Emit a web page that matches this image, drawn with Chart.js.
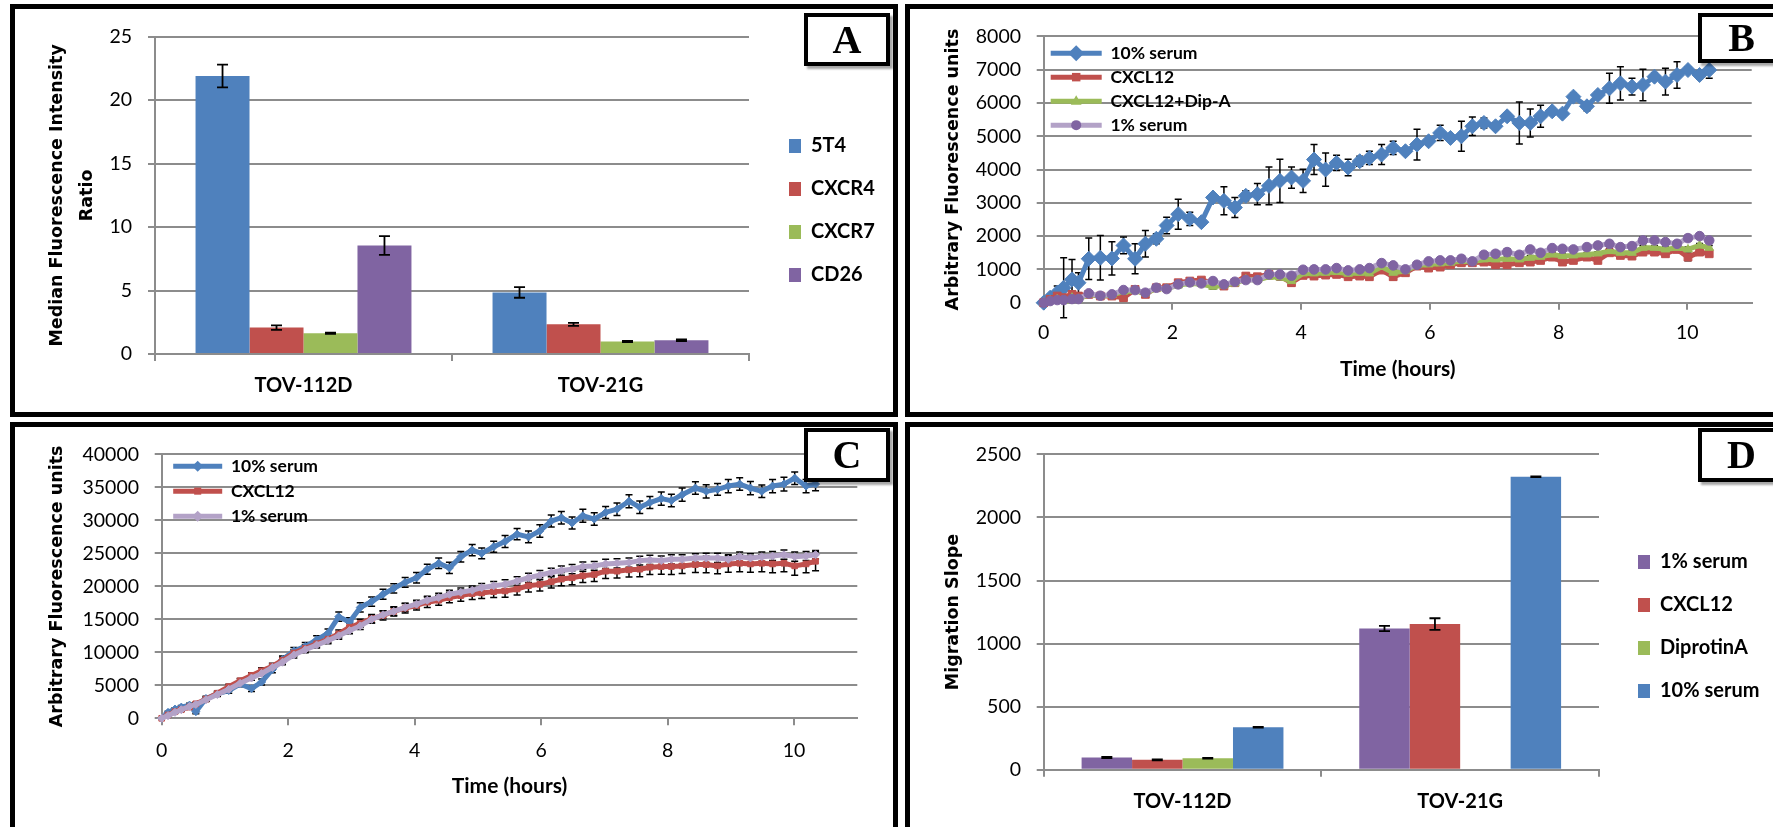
<!DOCTYPE html>
<html>
<head>
<meta charset="utf-8">
<script src="https://cdn.jsdelivr.net/npm/chart.js@4.4.1/dist/chart.umd.min.js"></script>
<style>
html,body{margin:0;padding:0;background:#fff;}
body{width:1773px;height:827px;overflow:hidden;position:relative;}
.panel{position:absolute;border:5px solid #000;box-sizing:border-box;}
.cw{position:absolute;}
.cw canvas{display:block;}
.letter{position:absolute;border:4px solid #000;box-sizing:border-box;background:#fff;
  box-shadow:3px 3px 2px rgba(0,0,0,0.35);font-family:'Liberation Serif','Times New Roman',serif;
  font-weight:bold;font-size:40px;display:flex;align-items:center;justify-content:center;line-height:1;}
</style>
</head>
<body>
<div class="panel" style="left:10px;top:4px;width:888px;height:413px"></div>
<div class="panel" style="left:905px;top:4px;width:900px;height:413px"></div>
<div class="panel" style="left:10px;top:422px;width:888px;height:430px"></div>
<div class="panel" style="left:905px;top:422px;width:900px;height:430px"></div>

<div class="cw" style="left:15px;top:9px;width:878px;height:403px"><canvas id="cA" width="878" height="403"></canvas></div>
<div class="cw" style="left:910px;top:9px;width:863px;height:403px"><canvas id="cB" width="863" height="403"></canvas></div>
<div class="cw" style="left:15px;top:427px;width:878px;height:400px"><canvas id="cC" width="878" height="400"></canvas></div>
<div class="cw" style="left:910px;top:427px;width:863px;height:400px"><canvas id="cD" width="863" height="400"></canvas></div>

<div class="letter" style="left:804px;top:13px;width:86px;height:53px">A</div>
<div class="letter" style="left:1698px;top:13px;width:87px;height:50px">B</div>
<div class="letter" style="left:804px;top:428px;width:86px;height:54px">C</div>
<div class="letter" style="left:1698px;top:428px;width:87px;height:54px">D</div>

<script>
// ---------------- DATA ----------------
// Panel A
const catsA = ['TOV-112D', 'TOV-21G'];
const a5T4 = [21.9, 4.85];
const a5T4Err = [0.9, 0.42];
const aCXCR4 = [2.08, 2.34];
const aCXCR4Err = [0.18, 0.12];
const aCXCR7 = [1.64, 0.99];
const aCXCR7Err = [0.05, 0.05];
const aCD26 = [8.55, 1.08];
const aCD26Err = [0.74, 0.07];

// Panel D
const catsD = ['TOV-112D', 'TOV-21G'];
const dSerum1 = [96, 1120];
const dSerum1Err = [5, 21];
const dCXCL12 = [78, 1155];
const dCXCL12Err = [4, 46];
const dDipA = [91, null];
const dDipAErr = [3, 0];
const dSerum10 = [336, 2323];
const dSerum10Err = [3, 3];

// Time points (hours) for panels B and C
const times = [0, 0.10, 0.21, 0.31, 0.44, 0.54, 0.70, 0.88, 1.06, 1.24, 1.42, 1.58, 1.75, 1.91, 2.09, 2.27,
  2.45, 2.63, 2.80, 2.97, 3.14, 3.32, 3.50, 3.67, 3.85, 4.03, 4.20, 4.38, 4.55, 4.73, 4.91, 5.06, 5.25, 5.43,
  5.62, 5.80, 5.98, 6.16, 6.32, 6.49, 6.66, 6.84, 7.02, 7.20, 7.39, 7.56, 7.72, 7.90, 8.06, 8.23, 8.44, 8.61,
  8.79, 8.96, 9.14, 9.31, 9.49, 9.66, 9.84, 10.01, 10.19, 10.34];

// Panel B
const bSerum10 = [0, 150, 300, 450, 700, 600, 1320, 1350, 1330, 1720, 1320, 1770, 1920, 2320, 2660, 2520,
  2420, 3160, 3060, 2860, 3210, 3260, 3510, 3660, 3760, 3660, 4300, 4000, 4200, 4060, 4250, 4350, 4450, 4650,
  4550, 4750, 4850, 5100, 4950, 5000, 5300, 5400, 5300, 5600, 5400, 5400, 5600, 5750, 5680, 6190, 5900, 6240,
  6440, 6590, 6490, 6540, 6790, 6640, 6840, 6990, 6840, 6990];
const bSerum10Err = [0, 100, 200, 900, 600, 300, 620, 670, 500, 250, 450, 400, 150, 250, 450, 200,
  100, 100, 420, 300, 150, 320, 570, 650, 320, 350, 450, 500, 230, 250, 150, 200, 300, 200,
  100, 460, 100, 230, 100, 450, 280, 150, 100, 100, 630, 420, 330, 100, 100, 100, 130, 100,
  450, 500, 250, 470, 100, 400, 400, 100, 120, 250];
const bCXCL12 = [0, 100, 200, 150, 250, 200, 250, 200, 200, 150, 400, 250, 450, 450, 600, 650,
  680, 600, 500, 600, 800, 780, 850, 800, 600, 820, 800, 830, 850, 780, 800, 780, 980, 780,
  900, 1100, 1040, 1070, 1140, 1200, 1200, 1220, 1140, 1140, 1200, 1220, 1270, 1370, 1220, 1270, 1370, 1270,
  1500, 1420, 1400, 1520, 1520, 1470, 1600, 1370, 1520, 1470];
const bCXCL12Err = [0, 40, 50, 60, 60, 60, 80, 70, 60, 90, 70, 60, 60, 70, 70, 80,
  70, 80, 70, 70, 80, 70, 60, 70, 100, 60, 70, 60, 70, 60, 70, 80, 60, 90,
  80, 70, 60, 60, 70, 80, 70, 60, 80, 60, 70, 80, 70, 60, 70, 60, 80, 70,
  60, 80, 70, 60, 70, 80, 70, 110, 80, 70];
const bDipA = [0, 60, 100, 50, 150, 100, 250, 200, 230, 330, 350, 280, 430, 420, 520, 580,
  560, 480, 520, 580, 700, 680, 780, 760, 650, 880, 880, 900, 920, 870, 900, 880, 1080, 900,
  950, 1120, 1150, 1180, 1200, 1250, 1230, 1300, 1300, 1320, 1300, 1350, 1380, 1450, 1400, 1420, 1450, 1480,
  1550, 1500, 1500, 1650, 1650, 1600, 1650, 1600, 1720, 1650];
const bDipAErr = [0, 30, 40, 40, 50, 50, 60, 50, 50, 60, 60, 50, 60, 50, 60, 60,
  60, 70, 60, 50, 60, 60, 60, 70, 60, 50, 60, 70, 60, 50, 60, 70, 60, 70,
  60, 50, 60, 70, 60, 60, 60, 70, 60, 50, 60, 70, 60, 60, 60, 70, 60, 50,
  60, 70, 60, 60, 60, 70, 60, 70, 60, 70];
const bSerum1 = [0, 50, 80, 80, 110, 110, 280, 210, 250, 380, 380, 300, 450, 410, 550, 610,
  580, 650, 550, 630, 680, 680, 850, 850, 810, 990, 1000, 1000, 1040, 970, 1000, 1040, 1190, 1120,
  1000, 1140, 1240, 1270, 1270, 1320, 1240, 1440, 1470, 1520, 1440, 1600, 1500, 1640, 1620, 1600, 1670, 1720,
  1770, 1670, 1700, 1870, 1870, 1820, 1770, 1940, 2000, 1870];
const bSerum1Err = [0, 30, 40, 50, 50, 50, 70, 60, 60, 70, 70, 60, 70, 60, 70, 70,
  60, 80, 60, 70, 70, 80, 70, 80, 70, 80, 90, 70, 80, 70, 80, 70, 90, 80,
  70, 80, 70, 80, 70, 90, 80, 70, 80, 90, 80, 70, 80, 70, 80, 70, 80, 90,
  80, 70, 80, 100, 80, 70, 80, 90, 80, 70];

// Panel C
const cSerum10 = [0, 900, 1400, 1700, 2000, 1000, 3000, 3700, 4200, 5200, 4500, 5500, 7400, 8900, 10200, 10900,
  11900, 12900, 15400, 14600, 16800, 17700, 18800, 19700, 20600, 21300, 22600, 23500, 22800, 24500, 25500, 25000,
  26000, 26800, 27900, 27500, 28400, 29900, 30400, 29600, 30700, 30200, 31200, 31700, 32900, 32000, 32700, 33300,
  33000, 33900, 34900, 34400, 34700, 35200, 35500, 34900, 34400, 35200, 35500, 36400, 35200, 35500];
const cSerum10Err = [0, 150, 200, 250, 300, 300, 350, 350, 400, 400, 450, 450, 500, 550, 550, 600,
  600, 650, 700, 650, 700, 700, 750, 700, 750, 800, 750, 800, 850, 800, 850, 800,
  850, 900, 850, 900, 950, 900, 950, 900, 1000, 950, 900, 950, 1000, 950, 900, 1000,
  950, 1000, 950, 1000, 900, 1000, 950, 1000, 950, 1000, 1050, 950, 1000, 1000];
const cCXCL12 = [0, 500, 1000, 1300, 1700, 2200, 2900, 3800, 4800, 5700, 6500, 7200, 7900, 8800, 9900, 10600,
  11300, 12000, 12800, 13800, 14400, 15100, 15600, 16200, 16700, 17100, 17600, 17900, 18300, 18600, 18900, 19000,
  19200, 19300, 19600, 20100, 20300, 20700, 21100, 21300, 21600, 21800, 22300, 22300, 22500, 22600, 22900, 23000,
  23000, 23100, 23300, 23300, 23100, 23400, 23500, 23400, 23500, 23400, 23500, 23100, 23400, 23800];
const cCXCL12Err = [0, 100, 150, 200, 250, 250, 300, 300, 350, 350, 400, 450, 450, 450, 500, 550,
  500, 550, 600, 650, 600, 650, 700, 700, 750, 700, 800, 750, 800, 850, 900, 850,
  900, 950, 900, 950, 1000, 950, 1000, 1050, 1000, 1050, 1100, 1050, 1100, 1150, 1100, 1150,
  1200, 1150, 1200, 1250, 1200, 1250, 1300, 1250, 1300, 1350, 1300, 1400, 1350, 1450];
const cSerum1 = [0, 400, 900, 1300, 1800, 2100, 2800, 3600, 4400, 5300, 6100, 6800, 7700, 8500, 9600, 10400,
  11100, 11800, 12500, 13300, 14000, 15000, 15700, 16200, 16800, 17300, 17900, 18300, 18800, 19100, 19400, 19800,
  20100, 20300, 20800, 21300, 21700, 22100, 22400, 22600, 23000, 23100, 23400, 23500, 23600, 23900, 24000, 23900,
  24100, 24100, 24300, 24300, 24300, 24100, 24500, 24300, 24500, 24600, 24800, 24500, 24600, 24800];
const cSerum1Err = [0, 100, 150, 200, 200, 250, 250, 300, 300, 350, 350, 400, 400, 400, 450, 450,
  450, 500, 500, 500, 550, 550, 550, 600, 600, 600, 600, 650, 600, 650, 650, 650,
  650, 700, 650, 700, 700, 650, 700, 700, 700, 650, 700, 700, 700, 650, 700, 700,
  700, 700, 650, 700, 700, 700, 700, 650, 700, 700, 700, 700, 700, 650];

// Axis titles
const xTitleTime = 'Time (hours)';
const yTitleA = ['Median Fluorescence Intensity', 'Ratio'];
const yTitleBC = 'Arbitrary Fluorescence units';
const yTitleD = 'Migration Slope';

// ---------------- STYLE ----------------
const GRID = '#8c8c8c';
const BLUE = '#4F81BD', RED = '#C0504D', GREEN = '#9BBB59', PURPLE = '#8064A2', LILAC = '#B3A2C7';
const TICK_FONT = {family: 'Lato', size: 19.5};
const BOLD20 = {family: 'Lato', size: 20, weight: 'bold'};
const YTITLE_FONT = {family: 'DejaVu Sans', size: 17.5, weight: 'bold'};
Chart.defaults.color = '#000';
Chart.defaults.font.family = 'Lato';

const pts = (xs, ys) => xs.map((x, i) => ({x: x, y: ys[i]}));

// error bars drawn through the chart's own scales
function drawErr(chart, opts) {
  const ctx = chart.ctx;
  ctx.save();
  ctx.strokeStyle = '#000';
  ctx.lineWidth = opts.width || 1.5;
  chart.data.datasets.forEach((ds, i) => {
    if (!ds.errors) return;
    const meta = chart.getDatasetMeta(i);
    const ys = chart.scales[meta.yAxisID];
    meta.data.forEach((el, j) => {
      const raw = ds.data[j];
      const v = (raw !== null && typeof raw === 'object') ? raw.y : raw;
      const e = ds.errors[j];
      if (v === null || v === undefined || !e) return;
      const x = el.x;
      const y1 = ys.getPixelForValue(v + e), y2 = ys.getPixelForValue(v - e);
      ctx.beginPath();
      ctx.moveTo(x, y1); ctx.lineTo(x, y2);
      ctx.moveTo(x - opts.cap, y1); ctx.lineTo(x + opts.cap, y1);
      ctx.moveTo(x - opts.cap, y2); ctx.lineTo(x + opts.cap, y2);
      ctx.stroke();
    });
  });
  ctx.restore();
}
const errorBars = {
  id: 'errorBars',
  beforeDatasetsDraw(chart, args, opts) { if (opts.layer === 'below') drawErr(chart, opts); },
  afterDatasetsDraw(chart, args, opts) { if (opts.layer !== 'below') drawErr(chart, opts); }
};

function drawMarker(ctx, style, x, y, r, color) {
  ctx.save();
  ctx.fillStyle = color;
  ctx.beginPath();
  if (style === 'rectRot') {
    ctx.moveTo(x, y - r); ctx.lineTo(x + r, y); ctx.lineTo(x, y + r); ctx.lineTo(x - r, y); ctx.closePath();
  } else if (style === 'rect') {
    const s = r * Math.SQRT1_2; ctx.rect(x - s, y - s, 2 * s, 2 * s);
  } else if (style === 'triangle') {
    ctx.moveTo(x, y - r); ctx.lineTo(x + r * 0.9, y + r * 0.6); ctx.lineTo(x - r * 0.9, y + r * 0.6); ctx.closePath();
  } else {
    ctx.arc(x, y, r, 0, Math.PI * 2);
  }
  ctx.fill();
  ctx.restore();
}

// places the legend box: relative to the plot area (line charts) or at a fixed spot (bar charts)
const legendPlace = {
  id: 'legendPlace',
  afterLayout(chart, args, opts) {
    const lg = chart.legend;
    if (!lg) return;
    const h = lg.height, w = lg.width;
    if (opts.relative) {
      lg.left = chart.chartArea.left + opts.x;
      lg.top = chart.chartArea.top + opts.y;
    } else {
      lg.left = opts.x;
      lg.top = opts.y;
    }
    lg.bottom = lg.top + h;
    lg.right = lg.left + w;
  },
  afterDraw(chart, args, opts) {
    if (!opts.markers) return;
    const lg = chart.legend;
    if (!lg || !lg.legendHitBoxes) return;
    const lo = lg.options.labels;
    const fs = lo.font.size;
    lg.legendItems.forEach((item, k) => {
      const hb = lg.legendHitBoxes[k];
      const ds = chart.data.datasets[item.datasetIndex];
      drawMarker(chart.ctx, ds.pointStyle, hb.left + lo.pointStyleWidth / 2, hb.top + fs / 2,
        ds.legendMarkerRadius, ds.pointBackgroundColor);
    });
  }
};

function lineLegend(pad, styleWidth) {
  return {
    position: 'chartArea', align: 'start',
    labels: {
      usePointStyle: true, pointStyle: 'line', pointStyleWidth: styleWidth, padding: pad,
      font: {family: 'Lato', size: 17.5, weight: 'bold'}, color: '#000',
      sort: (a, b) => a.datasetIndex - b.datasetIndex,
      generateLabels(chart) {
        const items = Chart.defaults.plugins.legend.labels.generateLabels(chart);
        items.forEach(it => {
          const ds = chart.data.datasets[it.datasetIndex];
          it.lineWidth = ds.borderWidth; it.strokeStyle = ds.borderColor; it.pointStyle = 'line';
        });
        return items;
      }
    }
  };
}

function lineScales(o) {
  return {
    x: {
      type: 'linear', min: 0, max: 11,
      ticks: {stepSize: 2, includeBounds: false, font: TICK_FONT, color: '#000', padding: o.xPad},
      grid: {drawOnChartArea: false, drawTicks: true, tickLength: 7, color: GRID, lineWidth: 2},
      border: {display: true, color: GRID, width: 2},
      title: {display: true, text: xTitleTime, font: {family: 'Lato', size: 21, weight: 'bold'}, color: '#000',
        padding: {top: 0, bottom: 0}},
      afterFit: s => { s.height = o.xH; }
    },
    y: {
      min: 0, max: o.yMax,
      ticks: {stepSize: o.yStep, font: TICK_FONT, color: '#000', padding: o.yPad, callback: v => String(v)},
      grid: {color: GRID, lineWidth: 2, tickLength: 7},
      border: {display: true, color: GRID, width: 2},
      title: {display: true, text: o.yTitle, font: YTITLE_FONT, color: '#000', padding: {top: o.yTitlePad, bottom: 0}},
      afterFit: s => { s.width = o.yW; }
    }
  };
}

function barOptions(o) {
  return {
    responsive: false, animation: false, devicePixelRatio: 1,
    layout: {padding: {left: 0, top: o.padT, right: o.padR, bottom: o.padB}},
    plugins: {
      legend: {
        position: 'chartArea', align: 'start',
        labels: {boxWidth: 12, boxHeight: 14, padding: 23, font: BOLD20, color: '#000'}
      },
      legendPlace: {relative: false, x: o.legX, y: o.legY, markers: false},
      tooltip: {enabled: false},
      errorBars: {layer: 'above', cap: 5.5, width: 1.8}
    },
    scales: {
      x: {
        grid: {display: true, drawOnChartArea: false, offset: true, tickLength: 7, color: GRID, lineWidth: 2},
        border: {display: true, color: GRID, width: 2},
        ticks: {font: BOLD20, color: '#000', padding: 13},
        afterFit: s => { s.height = o.xH; }
      },
      y: {
        min: 0, max: o.yMax,
        ticks: {stepSize: o.yStep, font: TICK_FONT, color: '#000', padding: o.yPad, callback: v => String(v)},
        grid: {color: GRID, lineWidth: 2, tickLength: 7},
        border: {display: true, color: GRID, width: 2},
        title: {display: true, text: o.yTitle, font: Object.assign({}, YTITLE_FONT, {lineHeight: o.yTitleLH || 1.2}),
          color: '#000', padding: {top: o.yTitlePad, bottom: 0}},
        afterFit: s => { s.width = o.yW; }
      }
    }
  };
}

const barDs = (label, data, errs, color) => ({
  label: label, data: data, errors: errs, backgroundColor: color, borderWidth: 0,
  categoryPercentage: 0.727, barPercentage: 1.0
});

// ---------------- PANEL A ----------------
new Chart(document.getElementById('cA'), {
  type: 'bar',
  data: {
    labels: catsA,
    datasets: [
      barDs('5T4', a5T4, a5T4Err, BLUE),
      barDs('CXCR4', aCXCR4, aCXCR4Err, RED),
      barDs('CXCR7', aCXCR7, aCXCR7Err, GREEN),
      barDs('CD26', aCD26, aCD26Err, PURPLE)
    ]
  },
  options: barOptions({padT: 25, padR: 144, padB: 3, xH: 55, yMax: 25, yStep: 5, yPad: 16, yW: 140,
    yTitle: yTitleA, yTitlePad: 28, yTitleLH: 29.5 / 17.5, legX: 751, legY: 104}),
  plugins: [errorBars, legendPlace]
});

// ---------------- PANEL D ----------------
new Chart(document.getElementById('cD'), {
  type: 'bar',
  data: {
    labels: catsD,
    datasets: [
      barDs('1% serum', dSerum1, dSerum1Err, PURPLE),
      barDs('CXCL12', dCXCL12, dCXCL12Err, RED),
      barDs('DiprotinA', dDipA, dDipAErr, GREEN),
      barDs('10% serum', dSerum10, dSerum10Err, BLUE)
    ]
  },
  options: barOptions({padT: 22.7, padR: 174, padB: 2.3, xH: 55, yMax: 2500, yStep: 500, yPad: 15.7, yW: 133.7,
    yTitle: yTitleD, yTitlePad: 32.5, legX: 705, legY: 102}),
  plugins: [errorBars, legendPlace]
});

// ---------------- PANEL B ----------------
const lineDs = (label, xs, ys, errs, line, mark, style, r, lr, order) => ({
  label: label, data: pts(xs, ys), errors: errs,
  borderColor: line, backgroundColor: line, borderWidth: 5, borderJoinStyle: 'round', tension: 0,
  pointStyle: style, pointRadius: r, pointHoverRadius: r, pointBackgroundColor: mark, pointBorderColor: mark,
  pointBorderWidth: 1, clip: false, order: order, legendMarkerRadius: lr
});

new Chart(document.getElementById('cB'), {
  type: 'line',
  data: {
    datasets: [
      lineDs('10% serum', times, bSerum10, bSerum10Err, BLUE, BLUE, 'rectRot', 7.5, 8, 3),
      lineDs('CXCL12', times, bCXCL12, bCXCL12Err, RED, RED, 'rect', 5.5, 6, 2),
      lineDs('CXCL12+Dip-A', times, bDipA, bDipAErr, GREEN, GREEN, 'triangle', 5, 6, 1),
      lineDs('1% serum', times, bSerum1, bSerum1Err, LILAC, PURPLE, 'circle', 4.8, 5, 0)
    ]
  },
  options: {
    responsive: false, animation: false, devicePixelRatio: 1,
    layout: {padding: {left: 0, top: 25.3, right: 21.3, bottom: 30}},
    plugins: {
      legend: lineLegend(6.5, 51),
      legendPlace: {relative: true, x: 0.5, y: 1.5, markers: true},
      tooltip: {enabled: false},
      errorBars: {layer: 'below', cap: 3.5, width: 1.5}
    },
    scales: lineScales({xPad: 11.6, xH: 79.3, yMax: 8000, yStep: 1000, yPad: 15.7, yW: 133.7,
      yTitle: yTitleBC, yTitlePad: 32.5})
  },
  plugins: [errorBars, legendPlace]
});

// ---------------- PANEL C ----------------
new Chart(document.getElementById('cC'), {
  type: 'line',
  data: {
    datasets: [
      lineDs('10% serum', times, cSerum10, cSerum10Err, BLUE, BLUE, 'rectRot', 4, 5.5, 2),
      lineDs('CXCL12', times, cCXCL12, cCXCL12Err, RED, RED, 'rect', 4, 5, 1),
      lineDs('1% serum', times, cSerum1, cSerum1Err, LILAC, LILAC, 'rectRot', 4, 5.5, 0)
    ]
  },
  options: {
    responsive: false, animation: false, devicePixelRatio: 1,
    layout: {padding: {left: 0, top: 22.3, right: 35.7, bottom: 28}},
    plugins: {
      legend: lineLegend(7.5, 49),
      legendPlace: {relative: true, x: 4, y: -4.5, markers: true},
      tooltip: {enabled: false},
      errorBars: {layer: 'below', cap: 3.5, width: 1.5}
    },
    scales: lineScales({xPad: 13.5, xH: 80.7, yMax: 40000, yStep: 5000, yPad: 15.7, yW: 146.7,
      yTitle: yTitleBC, yTitlePad: 31.5})
  },
  plugins: [errorBars, legendPlace]
});
</script>
</body>
</html>
